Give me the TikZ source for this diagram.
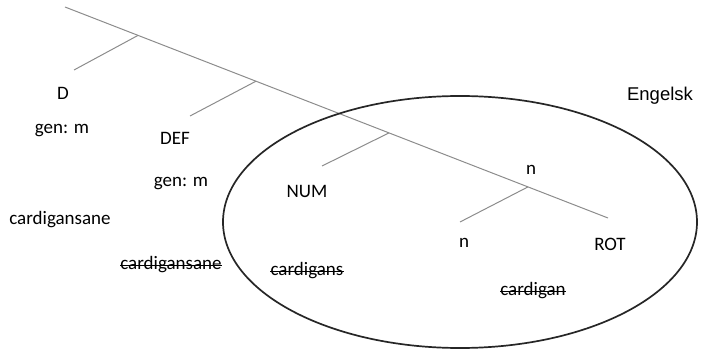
\documentclass[tikz,border=0pt]{standalone}
\usepackage{fontspec}
\setmainfont{Carlito}
\newfontfamily\arialfont{Liberation Sans}
\usetikzlibrary{shapes.geometric}
\begin{document}
\begin{tikzpicture}[x=1pt,y=-1pt,
  lbl/.style={inner sep=0pt,font=\fontsize{19}{22}\selectfont,text=black},
  branch/.style={draw=black!45,line width=1pt},
  strike/.style={draw=black,line width=1.1pt},
  ring/.style={draw=black!85,line width=1.7pt}]
\useasboundingbox (0,0) rectangle (702,350);
% tree
\coordinate (top) at (65,7);
\coordinate (end) at (608,218);
\coordinate (bD) at (138,35.4);
\coordinate (bDEF) at (256,81.2);
\coordinate (bNUM) at (389,132.9);
\coordinate (bn) at (528,186.9);
\coordinate (lD) at (74,70);
\coordinate (lDEF) at (190,116);
\coordinate (lNUM) at (322,166);
\coordinate (ln) at (460,222);
\draw[branch] (top) -- (end);
\draw[branch] (bD) -- (lD);
\draw[branch] (bDEF) -- (lDEF);
\draw[branch] (bNUM) -- (lNUM);
\draw[branch] (bn) -- (ln);
% ellipse
\node[ring,ellipse,minimum width=474pt,minimum height=252pt,inner sep=0pt] (eng) at (460,222) {};
% labels
\node[lbl] (D) at (63,93) {D};
\node[lbl] (gen1) at (62,131) {gen: m};
\node[lbl] (DEF) at (175,138) {DEF};
\node[lbl] (gen2) at (181,184) {gen: m};
\node[lbl] (c1) at (60,220) {cardigansane};
\node[lbl] (c2) at (171,265) {cardigansane};
\node[lbl] (NUM) at (307,191) {NUM};
\node[lbl] (c3) at (307,271) {cardigans};
\node[lbl] (n1) at (531,170) {n};
\node[lbl] (n2) at (464,243) {n};
\node[lbl] (ROT) at (610,244) {ROT};
\node[lbl] (c4) at (533,291) {cardigan};
\foreach \s in {c2,c3,c4}
  \draw[strike] ([yshift=4.6pt]\s.base west) -- ([yshift=4.6pt]\s.base east);
\node[inner sep=0pt,font=\arialfont\fontsize{18.5}{22}\selectfont,text=black] (Eng) at (660,96) {Engelsk};
\end{tikzpicture}
\end{document}
